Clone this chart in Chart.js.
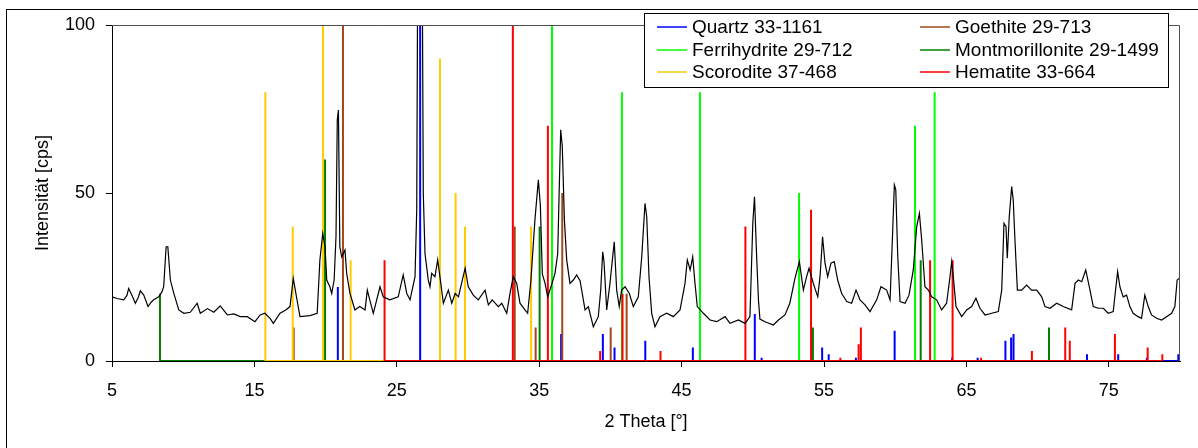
<!DOCTYPE html>
<html>
<head>
<meta charset="utf-8">
<script src="https://cdn.jsdelivr.net/npm/chart.js@4/dist/chart.umd.min.js"></script>
<style>
  html, body { margin: 0; padding: 0; background: #ffffff; }
  canvas { display: block; }
</style>
</head>
<body>
<canvas id="xrd" width="1198" height="448"></canvas>
<script>
// Measured diffraction pattern: 2 Theta [°] and intensity [cps]
const patternX = [
  5.00, 5.35, 5.82, 6.05, 6.17, 6.40, 6.64, 6.85, 6.99, 7.23, 7.53, 7.75, 7.93, 8.28, 8.50, 8.63, 8.80, 8.92, 9.10, 9.34,
  9.69, 10.05, 10.50, 10.98, 11.20, 11.70, 12.15, 12.60, 13.10, 13.55, 14.00, 14.50, 15.04, 15.40, 15.74, 16.10, 16.33, 16.80, 17.20, 17.50,
  17.73, 17.97, 18.20, 18.90, 19.41, 19.60, 19.80, 19.96, 20.08, 20.30, 20.43, 20.60, 20.73, 20.82, 20.90, 21.00, 21.13, 21.36, 21.48, 21.71,
  22.06, 22.40, 22.77, 22.93, 23.10, 23.35, 23.82, 24.05, 24.50, 25.10, 25.45, 25.70, 25.93, 26.28, 26.40, 26.46, 26.60, 26.75, 26.80, 26.86,
  26.98, 27.21, 27.33, 27.45, 27.68, 27.87, 28.03, 28.27, 28.62, 28.86, 29.10, 29.33, 29.60, 29.80, 30.02, 30.37, 30.72, 31.20, 31.43, 31.70,
  32.13, 32.37, 32.72, 32.95, 33.18, 33.42, 33.65, 34.00, 34.19, 34.42, 34.70, 34.94, 35.08, 35.22, 35.41, 35.60, 35.90, 36.11, 36.30, 36.40,
  36.51, 36.62, 36.77, 36.93, 37.16, 37.40, 37.63, 37.87, 38.22, 38.45, 38.80, 39.15, 39.32, 39.46, 39.55, 39.74, 39.97, 40.16, 40.27, 40.44,
  40.62, 40.79, 41.03, 41.33, 41.61, 41.96, 42.20, 42.43, 42.55, 42.71, 42.90, 43.13, 43.48, 43.95, 44.42, 44.89, 45.24, 45.40, 45.60, 45.78,
  45.94, 46.10, 46.53, 47.00, 47.47, 48.05, 48.40, 48.99, 49.46, 49.80, 50.00, 50.12, 50.27, 50.40, 50.50, 50.86, 51.44, 51.80, 52.26, 52.60,
  52.96, 53.27, 53.55, 53.78, 53.95, 54.25, 54.56, 54.72, 54.90, 55.07, 55.26, 55.49, 55.72, 55.96, 56.24, 56.60, 56.94, 57.25, 57.53, 57.88,
  58.23, 58.70, 59.00, 59.40, 59.64, 59.80, 59.94, 60.04, 60.18, 60.34, 60.69, 60.97, 61.27, 61.51, 61.70, 61.86, 62.09, 62.33, 62.56, 62.91,
  63.26, 63.61, 63.85, 63.97, 64.08, 64.27, 64.67, 65.02, 65.37, 65.67, 65.95, 66.31, 66.78, 67.24, 67.48, 67.64, 67.78, 67.87, 68.01, 68.18,
  68.29, 68.41, 68.58, 68.88, 69.23, 69.58, 69.94, 70.29, 70.52, 70.87, 71.34, 71.80, 72.39, 72.63, 72.86, 73.10, 73.38, 73.63, 73.91, 74.26,
  74.61, 74.96, 75.31, 75.50, 75.62, 75.78, 76.01, 76.25, 76.48, 76.71, 77.06, 77.30, 77.53, 77.77, 78.00, 78.36, 78.71, 79.06, 79.41, 79.64,
  79.80, 79.94
];
const patternY = [
  19.1, 18.6, 18.2, 19.5, 21.6, 19.6, 17.2, 19.0, 20.9, 19.6, 16.2, 17.5, 18.2, 19.1, 20.5, 22.1, 34.0, 34.0, 24.1, 20.1,
  15.2, 14.2, 14.5, 17.2, 14.2, 15.6, 14.5, 16.4, 13.7, 14.0, 13.2, 13.2, 11.7, 13.7, 14.2, 12.7, 11.2, 14.2, 15.2, 16.2,
  24.6, 18.7, 13.2, 13.5, 14.2, 30.1, 38.0, 34.0, 24.1, 22.1, 20.1, 24.1, 37.0, 71.7, 74.7, 34.0, 31.0, 33.0, 26.1, 20.1,
  15.2, 16.2, 15.2, 21.1, 18.2, 14.2, 22.1, 19.1, 18.2, 19.1, 25.6, 20.1, 18.2, 25.1, 45.0, 110.0, 150.0, 140.0, 105.0, 49.9,
  32.0, 24.1, 22.1, 26.1, 25.1, 30.1, 25.1, 17.2, 21.1, 17.2, 20.1, 19.1, 24.1, 27.6, 22.1, 19.6, 18.2, 21.1, 16.7, 18.2,
  16.2, 17.2, 14.2, 20.1, 25.1, 23.1, 17.2, 15.2, 14.2, 24.1, 42.0, 53.9, 46.5, 25.9, 23.1, 19.1, 23.1, 26.1, 32.0, 50.0,
  68.8, 64.0, 42.0, 30.1, 23.1, 24.1, 25.6, 23.9, 15.2, 16.2, 10.2, 13.2, 21.1, 32.5, 29.6, 15.2, 23.1, 31.0, 35.5, 21.1,
  16.2, 21.1, 22.1, 20.1, 16.2, 19.1, 31.0, 46.9, 43.0, 25.1, 14.2, 10.2, 13.2, 14.2, 13.2, 15.2, 23.1, 30.1, 27.1, 31.0,
  23.1, 16.2, 14.2, 12.2, 11.7, 13.2, 11.2, 12.2, 11.2, 13.2, 41.0, 48.9, 31.0, 18.0, 12.5, 11.7, 10.7, 12.2, 13.7, 17.2,
  24.6, 29.6, 21.1, 25.1, 27.6, 23.1, 19.1, 25.1, 37.0, 29.1, 25.1, 29.1, 29.6, 24.1, 20.1, 17.7, 17.2, 21.1, 18.2, 16.7,
  14.7, 18.2, 22.1, 21.1, 18.2, 36.0, 52.4, 51.0, 31.0, 17.7, 17.2, 19.6, 27.1, 40.0, 43.9, 36.0, 22.1, 21.1, 19.1, 18.2,
  15.2, 17.2, 25.1, 29.6, 25.1, 16.2, 13.2, 15.2, 16.2, 18.7, 15.7, 13.7, 14.2, 14.7, 21.1, 41.0, 40.0, 30.6, 43.0, 51.9,
  47.9, 36.0, 21.1, 21.1, 22.6, 21.1, 21.1, 19.1, 16.2, 15.7, 17.2, 16.2, 15.2, 23.1, 24.1, 23.6, 27.1, 22.1, 16.2, 15.7,
  15.7, 14.2, 14.7, 22.1, 26.6, 22.1, 19.1, 19.6, 16.2, 14.2, 13.2, 12.7, 19.6, 16.2, 13.7, 12.7, 12.2, 13.2, 14.2, 16.2,
  24.1, 24.6
];

// Reference card lines: positions (2 Theta) and relative intensities
const quartzPos = [20.86, 26.64, 36.54, 39.47, 40.29, 42.45, 45.79, 50.14, 50.62, 54.87, 55.33, 57.24, 59.96, 64.00, 65.79, 67.74, 68.14, 68.31, 73.47, 75.66, 77.67, 79.88];
const quartzInt = [22, 100, 8, 8, 4, 6, 4, 14, 1, 4, 2, 1, 9, 1, 1, 6, 7, 8, 2, 2, 1, 2];

const goethitePos = [17.76, 21.22, 33.28, 34.75, 36.62, 40.02, 41.14];
const goethiteInt = [10, 100, 40, 10, 50, 10, 20];

const ferrihydritePos = [35.90, 40.81, 46.29, 53.25, 61.39, 62.77];
const ferrihydriteInt = [100, 80, 80, 50, 70, 80];

const montmorillonitePos = [8.37, 19.96, 35.03, 54.22, 61.79, 70.80];
const montmorilloniteInt = [20, 60, 40, 10, 30, 10];

const scoroditePos = [15.77, 17.69, 19.82, 21.76, 28.03, 29.13, 29.79, 34.43];
const scoroditeInt = [80, 40, 100, 30, 90, 50, 40, 40];

const hematitePos = [24.14, 33.15, 35.61, 39.28, 40.85, 43.52, 49.48, 54.09, 56.15, 57.43, 57.59, 62.45, 64.03, 66.03, 69.60, 71.94, 72.26, 75.43, 77.73, 78.76];
const hematiteInt = [30, 100, 70, 3, 20, 3, 40, 45, 1, 5, 10, 30, 30, 1, 3, 10, 6, 8, 4, 2];

// Axis ticks
const xTicks = [5, 15, 25, 35, 45, 55, 65, 75];
const yTicks = [0, 50, 100];

// Phase names as shown in the key (two columns)
const phases = [
  { label: 'Quartz 33-1161',           pos: quartzPos,          int: quartzInt,          color: '#0000FF', order: 6, col: 0, row: 0 },
  { label: 'Goethite 29-713',          pos: goethitePos,        int: goethiteInt,        color: '#A0481C', order: 5, col: 1, row: 0 },
  { label: 'Ferrihydrite 29-712',      pos: ferrihydritePos,    int: ferrihydriteInt,    color: '#00FF00', order: 4, col: 0, row: 1 },
  { label: 'Montmorillonite 29-1499',  pos: montmorillonitePos, int: montmorilloniteInt, color: '#008000', order: 3, col: 1, row: 1 },
  { label: 'Scorodite 37-468',         pos: scoroditePos,       int: scoroditeInt,       color: '#FFCC00', order: 2, col: 0, row: 2 },
  { label: 'Hematite 33-664',          pos: hematitePos,        int: hematiteInt,        color: '#FF0000', order: 1, col: 1, row: 2 }
];

const FONT = "'Liberation Sans', Arial, sans-serif";

function stickData(pos, int) {
  const pts = [];
  pos.forEach((p, i) => {
    pts.push({ x: p, y: 0 }, { x: p, y: int[i] }, { x: p, y: 0 });
  });
  return pts;
}

const datasets = [
  {
    label: 'Messung',
    data: patternX.map((x, i) => ({ x: x, y: patternY[i] })),
    showLine: true,
    borderColor: '#000000',
    borderWidth: 1.2,
    pointRadius: 0,
    tension: 0,
    order: 0
  }
].concat(phases.map(ph => ({
  label: ph.label,
  data: stickData(ph.pos, ph.int),
  showLine: true,
  borderColor: ph.color,
  backgroundColor: ph.color,
  borderWidth: 2,
  pointRadius: 0,
  tension: 0,
  order: ph.order
})));

// Frame lines: outer chart border, and the upper/right edges of the plot area
const framePlugin = {
  id: 'frame',
  beforeDraw(chart) {
    const ctx = chart.ctx;
    ctx.save();
    ctx.fillStyle = '#ffffff';
    ctx.fillRect(0, 0, chart.width, chart.height);
    ctx.strokeStyle = '#000000';
    ctx.lineWidth = 1;
    ctx.strokeRect(6.5, 9.5, chart.width + 10, chart.height + 10);
    ctx.restore();
  },
  afterDatasetsDraw(chart) {
    const { ctx, chartArea: a } = chart;
    ctx.save();
    ctx.strokeStyle = '#505050';
    ctx.lineWidth = 1;
    ctx.beginPath();
    ctx.moveTo(a.left, a.top + 0.5);
    ctx.lineTo(a.right - 0.5, a.top + 0.5);
    ctx.lineTo(a.right - 0.5, a.bottom);
    ctx.stroke();
    ctx.restore();
  }
};

// Two-column key in a framed box over the top of the plot
const keyPlugin = {
  id: 'phaseKey',
  afterDraw(chart) {
    const ctx = chart.ctx;
    const box = { x: 644.5, y: 13.5, w: 524, h: 74 };
    const colX = [657, 920];
    const rowY = [27, 50, 72];
    ctx.save();
    ctx.fillStyle = '#ffffff';
    ctx.fillRect(box.x, box.y, box.w, box.h);
    ctx.strokeStyle = '#000000';
    ctx.lineWidth = 1;
    ctx.strokeRect(box.x, box.y, box.w, box.h);
    ctx.font = '19px ' + FONT;
    ctx.textBaseline = 'middle';
    ctx.textAlign = 'left';
    phases.forEach(ph => {
      const x = colX[ph.col];
      const y = rowY[ph.row];
      ctx.strokeStyle = ph.color;
      ctx.lineWidth = 1.5;
      ctx.beginPath();
      ctx.moveTo(x, y);
      ctx.lineTo(x + 30, y);
      ctx.stroke();
      ctx.fillStyle = '#000000';
      ctx.fillText(ph.label, x + 35, y + 1);
    });
    ctx.restore();
  }
};

new Chart(document.getElementById('xrd'), {
  type: 'scatter',
  data: { datasets: datasets },
  options: {
    responsive: false,
    animation: false,
    devicePixelRatio: 1,
    layout: { padding: { left: 0, top: 25, right: 18, bottom: 0 } },
    plugins: {
      legend: { display: false },
      tooltip: { enabled: false }
    },
    scales: {
      x: {
        type: 'linear',
        min: 5,
        max: 80,
        afterBuildTicks(scale) { scale.ticks = xTicks.map(v => ({ value: v })); },
        afterFit(scale) { scale.height = 87; },
        grid: { drawOnChartArea: false, drawTicks: true, tickLength: 6, color: '#000000' },
        border: { display: true, color: '#000000', width: 1 },
        ticks: { color: '#000000', font: { family: FONT, size: 18 }, padding: 13, maxRotation: 0, autoSkip: false },
        title: { display: true, text: '2 Theta [°]', color: '#000000', font: { family: FONT, size: 18 }, padding: { top: 0, bottom: 15 } }
      },
      y: {
        type: 'linear',
        min: 0,
        max: 100,
        afterBuildTicks(scale) { scale.ticks = yTicks.map(v => ({ value: v })); },
        afterFit(scale) { scale.width = 112; },
        grid: { drawOnChartArea: false, drawTicks: true, tickLength: 6, color: '#000000' },
        border: { display: true, color: '#000000', width: 1 },
        ticks: { color: '#000000', font: { family: FONT, size: 18 }, padding: 11 },
        title: { display: true, text: 'Intensität [cps]', color: '#000000', font: { family: FONT, size: 18 }, padding: { top: 32, bottom: 0 } }
      }
    }
  },
  plugins: [framePlugin, keyPlugin]
});
</script>
</body>
</html>
